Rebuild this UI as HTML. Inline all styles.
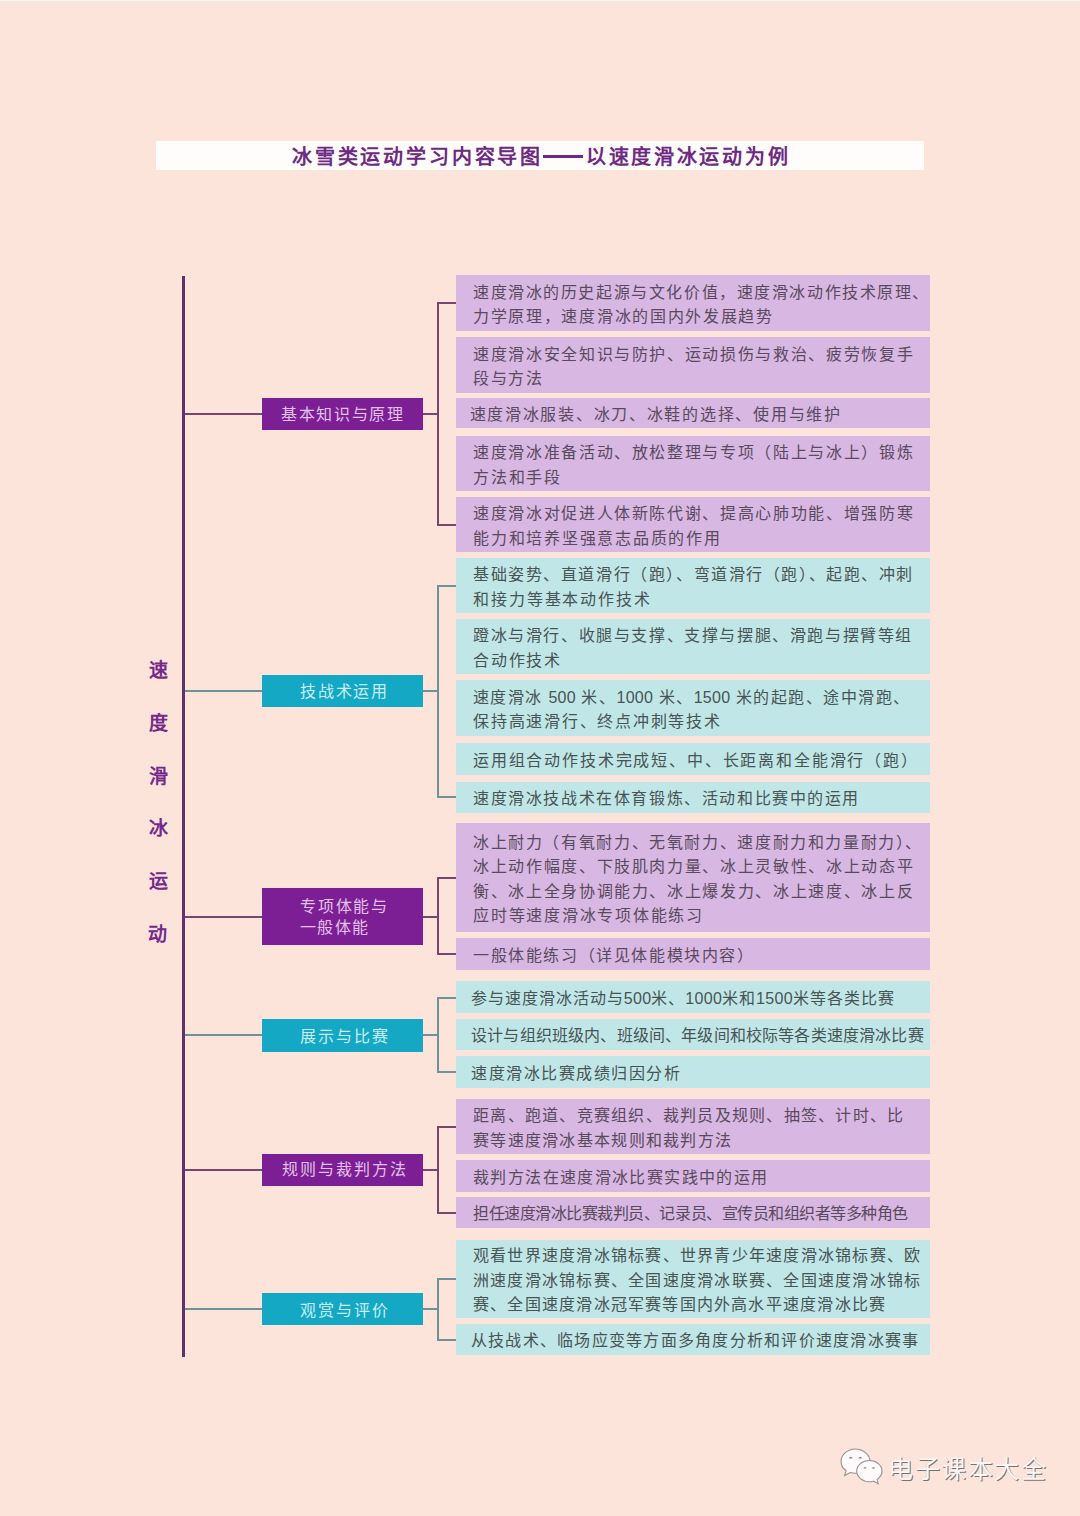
<!DOCTYPE html>
<html lang="zh-CN"><head><meta charset="utf-8">
<style>
html,body{margin:0;padding:0;}
body{width:1080px;height:1516px;background:#fce4da;position:relative;overflow:hidden;font-family:"Liberation Serif",serif;}
.a{position:absolute;}
.d{font-family:"Liberation Sans",sans-serif;letter-spacing:0.3px}
.t{position:absolute;line-height:40px;height:40px;white-space:nowrap;font-size:16px;}
.tp{color:#5a4a5e;}
.tt{color:#485454;}
.tpn{color:#e2c0ea;}
.ttn{color:#c9eef4;}
.bp{background:#d8b7e3;}
.bt{background:#c0e6e7;}
.box{left:456px;width:474px;}
.node{left:262px;width:161px;}
.np{background:#7c1f95;}
.nt{background:#14a8c4;}
.hb{font-family:"Liberation Sans",sans-serif;font-weight:bold;font-size:20px;color:#6e2a82;}
</style></head><body>

<div class="a" style="left:0;top:0;width:1080px;height:1px;background:#fcf3ec"></div><div class="a" style="left:0;top:1px;width:1080px;height:4px;background:#f5e5dc"></div>
<div class="a" style="left:156px;top:141px;width:768px;height:29px;background:#fffcfc"></div>
<div class="t hb" style="left:292.00px;top:137.30px;letter-spacing:2.830px">冰雪类运动学习内容导图</div>
<div class="t hb" style="left:585.80px;top:137.30px;letter-spacing:2.713px">以速度滑冰运动为例</div>
<div class="a" style="left:543px;top:155px;width:40px;height:3px;background:#6e2a82"></div>
<div class="a" style="left:182px;top:276px;width:3px;height:1081px;background:#62306a"></div>
<div class="t hb" style="left:149.30px;top:650.70px;font-size:19px;color:#752a8b">速</div>
<div class="t hb" style="left:149.30px;top:703.60px;font-size:19px;color:#752a8b">度</div>
<div class="t hb" style="left:149.30px;top:756.80px;font-size:19px;color:#752a8b">滑</div>
<div class="t hb" style="left:149.30px;top:809.30px;font-size:19px;color:#752a8b">冰</div>
<div class="t hb" style="left:149.30px;top:861.80px;font-size:19px;color:#752a8b">运</div>
<div class="t hb" style="left:148.30px;top:915.30px;font-size:19px;color:#752a8b">动</div>
<div class="a box bp" style="top:275px;height:56px"></div>
<div class="t tp" style="left:473.00px;top:272.60px;letter-spacing:1.580px">速度滑冰的历史起源与文化价值，速度滑冰动作技术原理、</div>
<div class="t tp" style="left:473.00px;top:297.00px;letter-spacing:1.688px">力学原理，速度滑冰的国内外发展趋势</div>
<div class="a box bp" style="top:337px;height:56px"></div>
<div class="t tp" style="left:473.00px;top:334.60px;letter-spacing:1.646px">速度滑冰安全知识与防护、运动损伤与救治、疲劳恢复手</div>
<div class="t tp" style="left:473.00px;top:359.00px;letter-spacing:1.500px">段与方法</div>
<div class="a box bp" style="top:398px;height:30px"></div>
<div class="t tp" style="left:469.50px;top:394.80px;letter-spacing:1.725px">速度滑冰服装、冰刀、冰鞋的选择、使用与维护</div>
<div class="a box bp" style="top:436px;height:55px"></div>
<div class="t tp" style="left:473.00px;top:433.10px;letter-spacing:1.646px">速度滑冰准备活动、放松整理与专项（陆上与冰上）锻炼</div>
<div class="t tp" style="left:473.00px;top:457.50px;letter-spacing:1.750px">方法和手段</div>
<div class="a box bp" style="top:497px;height:55px"></div>
<div class="t tp" style="left:473.00px;top:494.10px;letter-spacing:1.646px">速度滑冰对促进人体新陈代谢、提高心肺功能、增强防寒</div>
<div class="t tp" style="left:473.00px;top:518.50px;letter-spacing:1.769px">能力和培养坚强意志品质的作用</div>
<div class="a box bt" style="top:558px;height:55px"></div>
<div class="t tt" style="left:473.00px;top:555.10px;letter-spacing:1.580px">基础姿势、直道滑行（跑）、弯道滑行（跑）、起跑、冲刺</div>
<div class="t tt" style="left:473.00px;top:579.50px;letter-spacing:1.889px">和接力等基本动作技术</div>
<div class="a box bt" style="top:619px;height:55px"></div>
<div class="t tt" style="left:473.00px;top:616.10px;letter-spacing:1.604px">蹬冰与滑行、收腿与支撑、支撑与摆腿、滑跑与摆臂等组</div>
<div class="t tt" style="left:473.00px;top:640.50px;letter-spacing:1.750px">合动作技术</div>
<div class="a box bt" style="top:680px;height:56px"></div>
<div class="t tt" style="left:473.00px;top:677.60px;letter-spacing:1.476px">速度滑冰 <span class="d">500</span> 米、<span class="d">1000</span> 米、<span class="d">1500</span> 米的起跑、途中滑跑、</div>
<div class="t tt" style="left:473.00px;top:702.00px;letter-spacing:1.769px">保持高速滑行、终点冲刺等技术</div>
<div class="a box bt" style="top:743px;height:32px"></div>
<div class="t tt" style="left:473.00px;top:740.80px;letter-spacing:1.833px">运用组合动作技术完成短、中、长距离和全能滑行（跑）</div>
<div class="a box bt" style="top:782px;height:31px"></div>
<div class="t tt" style="left:473.00px;top:779.30px;letter-spacing:1.595px">速度滑冰技战术在体育锻炼、活动和比赛中的运用</div>
<div class="a box bp" style="top:823px;height:109px"></div>
<div class="t tp" style="left:473.00px;top:822.70px;letter-spacing:1.620px">冰上耐力（有氧耐力、无氧耐力、速度耐力和力量耐力）、</div>
<div class="t tp" style="left:473.00px;top:847.10px;letter-spacing:1.646px">冰上动作幅度、下肢肌肉力量、冰上灵敏性、冰上动态平</div>
<div class="t tp" style="left:473.00px;top:871.50px;letter-spacing:1.646px">衡、冰上全身协调能力、冰上爆发力、冰上速度、冰上反</div>
<div class="t tp" style="left:473.00px;top:895.90px;letter-spacing:1.750px">应时等速度滑冰专项体能练习</div>
<div class="a box bp" style="top:938px;height:32px"></div>
<div class="t tp" style="left:473.00px;top:935.80px;letter-spacing:1.600px">一般体能练习（详见体能模块内容）</div>
<div class="a box bt" style="top:981px;height:32px"></div>
<div class="t tt" style="left:471.00px;top:978.80px;letter-spacing:0.972px">参与速度滑冰活动与<span class="d">500</span>米、<span class="d">1000</span>米和<span class="d">1500</span>米等各类比赛</div>
<div class="a box bt" style="top:1019px;height:31px"></div>
<div class="t tt" style="left:471.00px;top:1016.30px;letter-spacing:0.167px">设计与组织班级内、班级间、年级间和校际等各类速度滑冰比赛</div>
<div class="a box bt" style="top:1056px;height:32px"></div>
<div class="t tt" style="left:471.00px;top:1053.80px;letter-spacing:1.500px">速度滑冰比赛成绩归因分析</div>
<div class="a box bp" style="top:1099px;height:55px"></div>
<div class="t tp" style="left:473.00px;top:1096.10px;letter-spacing:1.250px">距离、跑道、竞赛组织、裁判员及规则、抽签、计时、比</div>
<div class="t tp" style="left:473.00px;top:1120.50px;letter-spacing:1.286px">赛等速度滑冰基本规则和裁判方法</div>
<div class="a box bp" style="top:1160px;height:32px"></div>
<div class="t tp" style="left:473.00px;top:1157.80px;letter-spacing:1.375px">裁判方法在速度滑冰比赛实践中的运用</div>
<div class="a box bp" style="top:1197px;height:31px"></div>
<div class="t tp" style="left:473.00px;top:1194.30px;letter-spacing:-0.463px">担任速度滑冰比赛裁判员、记录员、宣传员和组织者等多种角色</div>
<div class="a box bt" style="top:1240px;height:78px"></div>
<div class="t tt" style="left:473.00px;top:1236.40px;letter-spacing:1.240px">观看世界速度滑冰锦标赛、世界青少年速度滑冰锦标赛、欧</div>
<div class="t tt" style="left:473.00px;top:1260.80px;letter-spacing:1.240px">洲速度滑冰锦标赛、全国速度滑冰联赛、全国速度滑冰锦标</div>
<div class="t tt" style="left:473.00px;top:1285.20px;letter-spacing:1.217px">赛、全国速度滑冰冠军赛等国内外高水平速度滑冰比赛</div>
<div class="a box bt" style="top:1324px;height:31px"></div>
<div class="t tt" style="left:471.00px;top:1321.30px;letter-spacing:1.240px">从技战术、临场应变等方面多角度分析和评价速度滑冰赛事</div>
<div class="a node np" style="top:398px;height:32px"></div>
<div class="t tpn" style="left:281.00px;top:395.00px;letter-spacing:1.667px">基本知识与原理</div>
<div class="a" style="left:185px;top:413.0px;width:77px;height:2px;background:#774670"></div>
<div class="a" style="left:423px;top:413.0px;width:15px;height:2px;background:#774670"></div>
<div class="a" style="left:437px;top:302.0px;width:2px;height:223.5px;background:#774670"></div>
<div class="a" style="left:437px;top:302.0px;width:19px;height:2px;background:#774670"></div>
<div class="a" style="left:437px;top:523.5px;width:19px;height:2px;background:#774670"></div>
<div class="a node nt" style="top:675px;height:32px"></div>
<div class="t ttn" style="left:300.00px;top:672.30px;letter-spacing:1.750px">技战术运用</div>
<div class="a" style="left:185px;top:690.0px;width:77px;height:2px;background:#6d9399"></div>
<div class="a" style="left:423px;top:690.0px;width:15px;height:2px;background:#6d9399"></div>
<div class="a" style="left:437px;top:584.5px;width:2px;height:213.5px;background:#6d9399"></div>
<div class="a" style="left:437px;top:584.5px;width:19px;height:2px;background:#6d9399"></div>
<div class="a" style="left:437px;top:796.0px;width:19px;height:2px;background:#6d9399"></div>
<div class="a node np" style="top:888px;height:57px"></div>
<div class="t tpn" style="left:300.00px;top:886.50px;letter-spacing:1.750px">专项体能与</div>
<div class="t tpn" style="left:300.00px;top:907.50px;letter-spacing:1.333px">一般体能</div>
<div class="a" style="left:185px;top:915.5px;width:77px;height:2px;background:#774670"></div>
<div class="a" style="left:423px;top:915.5px;width:15px;height:2px;background:#774670"></div>
<div class="a" style="left:437px;top:877.0px;width:2px;height:78.0px;background:#774670"></div>
<div class="a" style="left:437px;top:877.0px;width:19px;height:2px;background:#774670"></div>
<div class="a" style="left:437px;top:953.0px;width:19px;height:2px;background:#774670"></div>
<div class="a node nt" style="top:1019px;height:33px"></div>
<div class="t ttn" style="left:299.50px;top:1017.00px;letter-spacing:2.125px">展示与比赛</div>
<div class="a" style="left:185px;top:1034.0px;width:77px;height:2px;background:#6d9399"></div>
<div class="a" style="left:423px;top:1034.0px;width:15px;height:2px;background:#6d9399"></div>
<div class="a" style="left:437px;top:997.0px;width:2px;height:76.0px;background:#6d9399"></div>
<div class="a" style="left:437px;top:997.0px;width:19px;height:2px;background:#6d9399"></div>
<div class="a" style="left:437px;top:1071.0px;width:19px;height:2px;background:#6d9399"></div>
<div class="a node np" style="top:1154px;height:32px"></div>
<div class="t tpn" style="left:281.50px;top:1149.50px;letter-spacing:2.000px">规则与裁判方法</div>
<div class="a" style="left:185px;top:1169.0px;width:77px;height:2px;background:#774670"></div>
<div class="a" style="left:423px;top:1169.0px;width:15px;height:2px;background:#774670"></div>
<div class="a" style="left:437px;top:1125.5px;width:2px;height:88.5px;background:#774670"></div>
<div class="a" style="left:437px;top:1125.5px;width:19px;height:2px;background:#774670"></div>
<div class="a" style="left:437px;top:1212.0px;width:19px;height:2px;background:#774670"></div>
<div class="a node nt" style="top:1293px;height:32px"></div>
<div class="t ttn" style="left:299.50px;top:1290.50px;letter-spacing:2.125px">观赏与评价</div>
<div class="a" style="left:185px;top:1308.0px;width:77px;height:2px;background:#6d9399"></div>
<div class="a" style="left:423px;top:1308.0px;width:15px;height:2px;background:#6d9399"></div>
<div class="a" style="left:437px;top:1278.0px;width:2px;height:62.5px;background:#6d9399"></div>
<div class="a" style="left:437px;top:1278.0px;width:19px;height:2px;background:#6d9399"></div>
<div class="a" style="left:437px;top:1338.5px;width:19px;height:2px;background:#6d9399"></div>
<svg class="a" style="left:838px;top:1446px" width="48" height="42" viewBox="0 0 48 42">
<g fill="#fcfafa" stroke="#9b918f" stroke-width="1.1">
<path d="M17.5 3C9.5 3 3 8.6 3 15.5c0 3.8 2 7.1 5.1 9.3L6.6 29.6l5.6-3.1c1.7.5 3.5.8 5.3.8 C25.5 27.3 32 21.7 32 15.5S25.5 3 17.5 3z"/>
<path d="M31.5 14.5c-7 0-12.8 4.7-12.8 10.6S24.5 35.8 31.5 35.8c1.4 0 2.8-.2 4.1-.6l4.6 2.5-1.2-4.1C42 31.6 44 28.5 44 25.1 44 19.2 38.4 14.5 31.5 14.5z"/>
</g>
<g fill="#8f8583"><path d="M11 12.5a1.7 1.7 0 0 1 3.4 0z"/><path d="M20.5 12.5a1.7 1.7 0 0 1 3.4 0z"/><path d="M25.5 22.5a1.5 1.5 0 0 1 3 0z"/><path d="M34 22.5a1.5 1.5 0 0 1 3 0z"/></g>
</svg>
<div class="t" style="left:888.30px;top:1448.50px;letter-spacing:1.540px;font-family:'Liberation Sans',sans-serif;font-size:25px;color:#faf6f5;text-shadow:1px 1px 0.6px #7a7270,-0.5px -0.5px 0.5px #e0d6d4">电子课本大全</div>
</body></html>
